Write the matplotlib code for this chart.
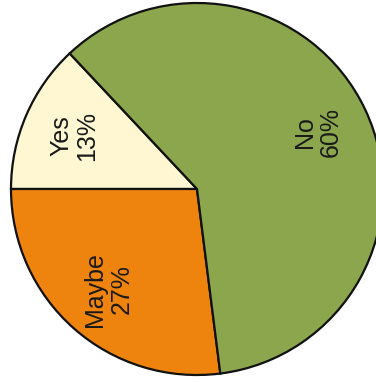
import matplotlib
matplotlib.use("Agg")
import matplotlib.pyplot as plt

answers = ["Yes", "Maybe", "No"]
shares = [13, 27, 60]
colors = ["#fef7d2", "#ee840e", "#8ca64e"]

plt.rcParams["font.family"] = ["Liberation Sans", "DejaVu Sans"]

fig = plt.figure(figsize=(3.76, 3.79), dpi=100)
ax = fig.add_axes([11 / 376, 4 / 379, 372 / 376, 372 / 379])

labels = [f"{a}\n{s}%" for a, s in zip(answers, shares)]
wedges, texts = ax.pie(
	shares,
	labels=labels,
	colors=colors,
	startangle=180 - shares[0] * 3.6,
	counterclock=True,
	labeldistance=0.72,
	radius=1,
	wedgeprops=dict(edgecolor="#111111", linewidth=1.6, clip_on=False),
	textprops=dict(fontsize=18, color="#1a1a1a", linespacing=1.1),
)
for t in texts:
	t.set_rotation(90)
	t.set_ha("center")
	t.set_va("center")

ax.set_xlim(-1.0, 1.0)
ax.set_ylim(-1.0, 1.0)
ax.set_aspect("equal")
ax.axis("off")

fig.savefig("out.png", dpi=100, facecolor="white")
